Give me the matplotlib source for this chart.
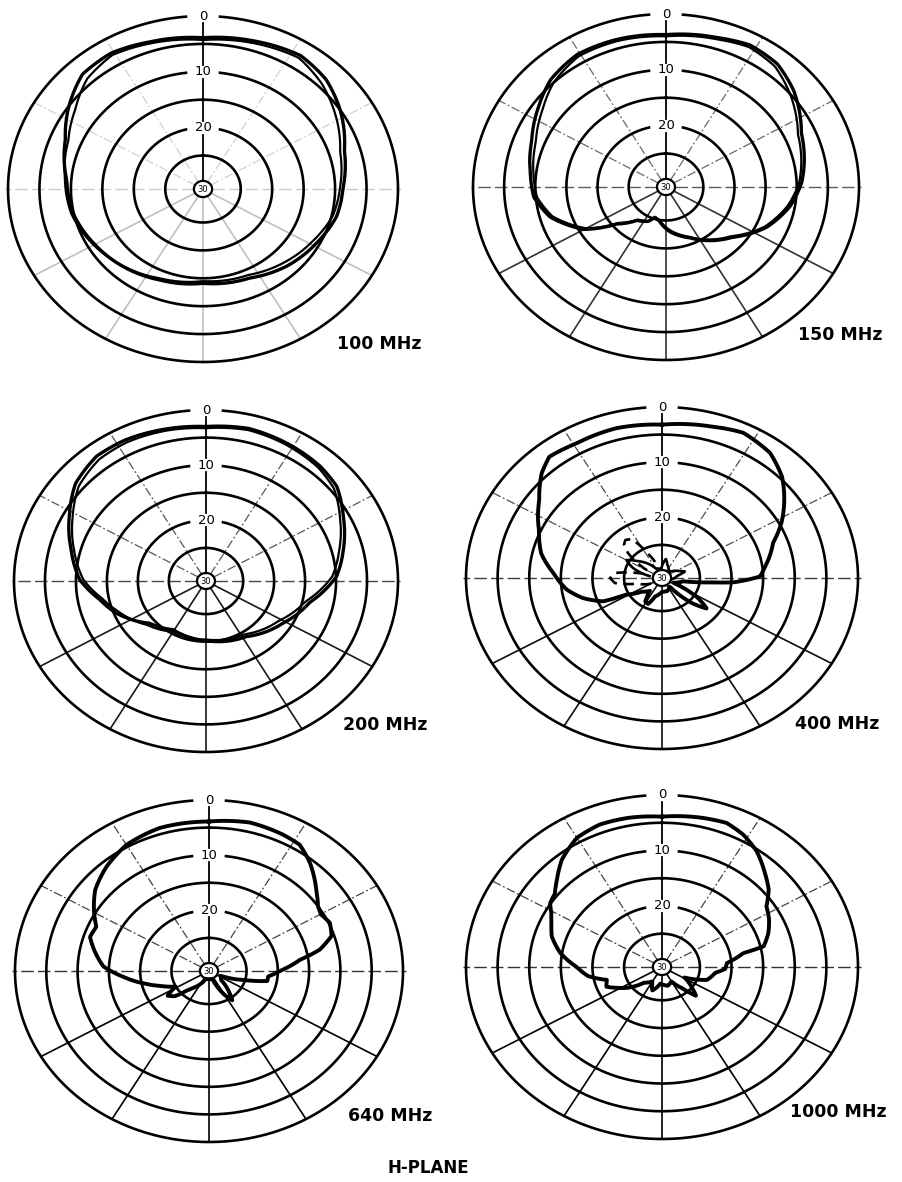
import numpy as np
import matplotlib.pyplot as plt

W, H = 903, 1182
R_MAX = 31.0   # radial units: 0 dB ring sits at 31, 30 dB near the centre

# H-plane patterns: angle in degrees clockwise from boresight, level in dB below the 0 dB ring
ang_100 = [0, 16, 33, 45, 57, 73, 89, 103, 118, 136, 155, 180, 203, 222, 239, 258, 274, 292, 305, 317, 329, 342]
db_100_a = [3.9, 3.3, 2.5, 3.3, 5.0, 7.5, 8.7, 9.2, 10.5, 11.8, 13.4, 14.1, 13.3, 12.2, 11.2, 9.9, 9.3, 7.4, 5.0, 2.9, 2.6, 3.3]
db_100_b = [4.3, 3.7, 3.0, 4.3, 6.0, 8.2, 9.2, 9.8, 11.2, 12.6, 14.0, 14.5, 13.6, 12.3, 11.0, 9.6, 9.0, 7.9, 6.2, 4.0, 3.0, 3.6]

ang_150 = [0, 17, 28, 39, 50, 66, 88, 100, 114, 130, 157, 175, 190, 198, 205, 218, 230, 240, 254, 265, 276, 291, 305, 316, 329, 343]
db_150_a = [3.7, 3.0, 2.2, 2.6, 4.2, 7.2, 9.2, 10.8, 13.3, 17.0, 21.1, 22.9, 24.8, 25.3, 24.2, 23.4, 20.7, 15.8, 11.6, 9.7, 9.1, 7.9, 6.0, 4.3, 3.3, 3.4]
db_150_b = [4.0, 3.3, 2.6, 3.2, 5.0, 7.8, 9.6, 11.2, 13.6, 17.3, 21.3, 23.2, 25.0, 25.3, 24.3, 23.6, 21.0, 16.2, 12.0, 10.2, 9.6, 8.6, 6.8, 5.0, 3.7, 3.7]

ang_200 = [0, 14, 27, 41.5, 51, 62, 75.6, 87.7, 103, 121.5, 147, 180, 197.6, 211, 230, 248, 259, 270.7, 284.6, 298, 310, 322, 333, 347]
db_200_a = [3.0, 2.5, 2.8, 3.2, 3.8, 5.9, 8.1, 9.9, 13.8, 16.4, 19.0, 20.2, 20.5, 20.7, 19.1, 15.4, 13.5, 10.6, 8.5, 6.0, 3.5, 2.3, 2.3, 2.7]
db_200_b = [3.3, 2.8, 3.1, 3.6, 4.4, 6.5, 8.8, 10.6, 14.5, 17.2, 19.5, 20.4, 20.0, 20.3, 18.6, 15.9, 14.0, 11.2, 9.0, 6.6, 4.2, 3.0, 2.8, 3.0]

ang_400 = [0, 15, 26, 37, 46, 62, 70, 83, 89, 94, 96, 100, 115, 122, 128, 134, 142, 160, 180, 198, 205, 212, 219, 232, 242,
           245.5, 253.7, 262, 273, 283, 294, 306, 315, 321, 331, 345]
db_400_a = [3.2, 2.5, 1.7, 2.6, 4.6, 9.6, 12.3, 14.6, 15.5, 19.7, 23.4, 27.6, 29.0, 24.5, 22.0, 24.5, 29.0, 28.5, 28.5, 27.5, 25.8,
            26.0, 28.0, 27.0, 24.6, 20.8, 18.0, 15.8, 13.8, 11.4, 9.7, 7.0, 4.1, 2.7, 3.1, 2.9]
# minor lobes near the centre (open traces)
ang_400_side = [240, 255, 263, 270, 277, 285, 300, 310, 315, 320, 326, 333, 345]
db_400_side = [29.0, 27.0, 23.5, 22.8, 23.5, 28.0, 28.5, 24.0, 22.5, 22.0, 22.5, 26.0, 29.5]
ang_400_front = [280, 292, 300, 308, 330, 355, 370, 380, 405, 425, 432, 440, 460]
db_400_front = [29.0, 26.0, 24.5, 26.0, 29.0, 29.5, 27.5, 28.5, 29.5, 28.0, 27.2, 28.5, 29.5]

ang_640 = [0, 13.6, 25.6, 32.3, 39.4, 49.3, 56, 60, 65.7, 72, 77.7, 82, 90, 96, 101, 106, 115, 130, 140, 145, 150, 160, 200,
           220, 225, 230, 236, 242, 250, 256.6, 265, 272.8, 282, 288, 294, 300, 309, 319, 330, 343]
db_640_a = [3.9, 3.3, 3.6, 3.9, 5.6, 8.4, 10.0, 10.4, 9.8, 10.4, 12.9, 16.3, 19.7, 21.5, 21.5, 25.0, 29.0, 28.5, 26.0, 24.5, 26.0,
            29.5, 29.5, 27.0, 26.0, 23.9, 23.0, 25.0, 23.0, 20.8, 17.5, 14.1, 12.2, 11.0, 11.3, 9.8, 7.6, 6.0, 4.6, 3.9]

ang_1000 = [0, 12.6, 21.5, 28.3, 35.6, 43.8, 50.4, 56.5, 63, 70, 77, 79, 86, 92, 97, 108, 118, 128, 134, 140, 150, 165, 185,
            200, 210, 225, 235, 242, 248, 255, 262, 270, 279, 287.6, 293, 299, 303, 308, 313.5, 320.7, 330, 339, 349]
db_1000_a = [3.9, 3.4, 3.1, 3.9, 5.3, 7.5, 9.1, 11.2, 12.0, 13.1, 14.5, 17.9, 20.7, 21.0, 22.5, 23.5, 27.0, 25.0, 23.5, 26.0,
             28.0, 27.5, 28.0, 26.5, 28.0, 27.0, 24.5, 23.0, 21.5, 22.0, 19.2, 17.5, 14.7, 12.7, 12.0, 11.0, 9.9, 9.5, 8.1,
             6.0, 4.1, 3.5, 3.6]

freq_labels = ['100 MHz', '150 MHz', '200 MHz', '400 MHz', '640 MHz', '1000 MHz']
ring_db = [0, 5, 10, 15, 20, 25]
ring_text = {0: '0', 10: '10', 20: '20'}
spoke_deg = list(range(0, 360, 30))

# panel placement in pixels: centre x, centre y, half width, half height
panels = [(203, 189, 195, 173), (666, 187, 193, 173),
          (206, 581, 192, 171), (662, 578, 196, 171),
          (209, 971, 194, 171), (662, 967, 196, 172)]
label_xy = [(337, 344), (798, 335), (343, 725), (795, 724), (348, 1116), (790, 1112)]
spoke_alpha = [0.25, 0.8, 0.9, 0.95, 1.0, 1.0]


def to_r(db):
    return R_MAX - np.asarray(db, dtype=float)


def trace(ang, db, closed=True):
    # walk the pattern in polar coordinates (straight in angle/level between readings)
    a = list(ang)
    d = list(db)
    if closed:
        a = a + [a[0] + 360]
        d = d + [d[0]]
    t = np.linspace(a[0], a[-1], 900)
    return np.deg2rad(t), to_r(np.interp(t, a, d))


def chart_axes(fig, cx, cy, rx, ry):
    ax = fig.add_axes([(cx - rx) / W, 1 - (cy + ry) / H, 2 * rx / W, 2 * ry / H], projection='polar')
    ax.set_theta_zero_location('N')
    ax.set_theta_direction(-1)
    ax.set_ylim(0, R_MAX)
    ax.set_aspect('auto')
    ax.axis('off')
    return ax


def draw_grid(ax, rx, ry, alpha):
    r_c = 1.45
    full = np.linspace(0, 2 * np.pi, 400)
    for d in ring_db:
        r = R_MAX - d
        if d in ring_text:
            gap = np.arcsin(min(1.0, 17.0 / (rx * r / R_MAX)))
            t = np.linspace(gap, 2 * np.pi - gap, 400)
            ax.text(0, r, ring_text[d], ha='center', va='center', fontsize=9.5, zorder=4)
        else:
            t = full
        ax.plot(t, np.full_like(t, r), color='k', lw=1.9, clip_on=False, zorder=2)
    ax.plot(full, np.full_like(full, r_c), color='k', lw=1.6, zorder=2)
    ax.text(0, 0, '30', ha='center', va='center', fontsize=6, zorder=4)

    hh = 7.0 / ry * R_MAX
    for s in spoke_deg:
        th = np.deg2rad(s)
        if s == 0:
            segs = [(r_c, 11 - hh), (11 + hh, 21 - hh), (21 + hh, R_MAX - hh)]
            for r0, r1 in segs:
                ax.plot([th, th], [r0, r1], color='k', lw=1.3, zorder=1)
        elif s == 180 or 100 < s < 260:
            ax.plot([th, th], [r_c, R_MAX], color='k', lw=1.2, alpha=alpha, zorder=1)
        elif s in (90, 270):
            ax.plot([th, th], [r_c, R_MAX + 0.4], color='#333333', lw=1.0, alpha=alpha,
                    dashes=(9, 3), zorder=1, clip_on=False)
        else:
            ax.plot([th, th], [r_c, R_MAX], color='#444444', lw=0.9, alpha=alpha,
                    dashes=(7, 2, 1.5, 2), zorder=1)


fig = plt.figure(figsize=(W / 100, H / 100), dpi=100)
fig.patch.set_facecolor('white')

patterns = [
    [(ang_100, db_100_a), (ang_100, db_100_b)],
    [(ang_150, db_150_a), (ang_150, db_150_b)],
    [(ang_200, db_200_a), (ang_200, db_200_b)],
    [(ang_400, db_400_a)],
    [(ang_640, db_640_a)],
    [(ang_1000, db_1000_a)],
]

for i, (cx, cy, rx, ry) in enumerate(panels):
    ax = chart_axes(fig, cx, cy, rx, ry)
    draw_grid(ax, rx, ry, spoke_alpha[i])
    for j, (ang, db) in enumerate(patterns[i]):
        a, r = trace(ang, db)
        lw = 2.4 if j == 0 else 1.6
        if i >= 3:
            lw = 2.8
        ax.plot(a, r, color='k', lw=lw, solid_joinstyle='round', clip_on=False, zorder=3)
    if i == 3:
        a, r = trace(ang_400_side, db_400_side, closed=False)
        ax.plot(a, r, color='k', lw=1.9, dashes=(4, 2.5), zorder=3)
        a, r = trace(ang_400_front, db_400_front, closed=False)
        ax.plot(a, r, color='k', lw=1.9, zorder=3)
    lx, ly = label_xy[i]
    fig.text(lx / W, 1 - ly / H, freq_labels[i], ha='left', va='center',
             fontsize=12.5, fontweight='bold', family='DejaVu Sans')

fig.text(428 / W, 1 - 1168 / H, 'H-PLANE', ha='center', va='center',
         fontsize=12, fontweight='bold', family='DejaVu Sans')

fig.savefig('out.png', dpi=100, facecolor='white')
